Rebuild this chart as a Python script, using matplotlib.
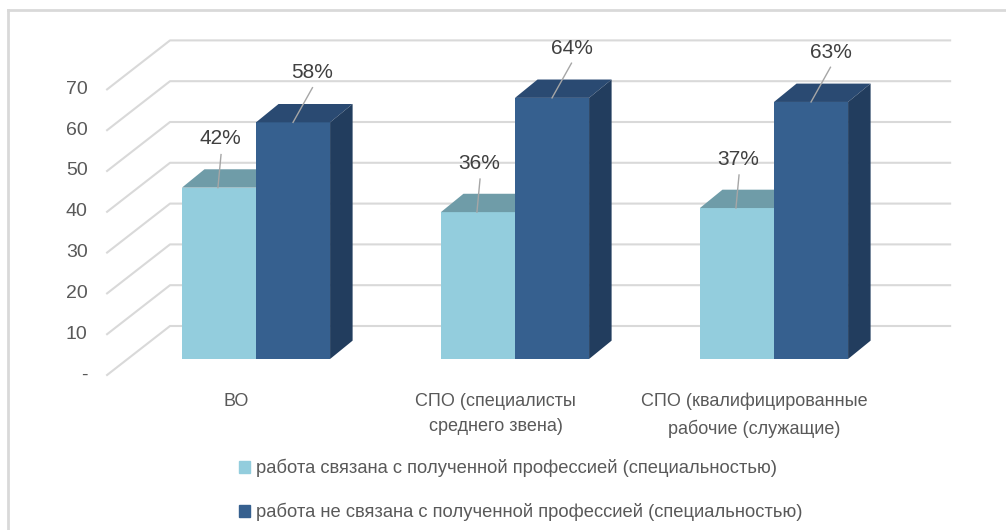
import matplotlib
matplotlib.use('Agg')
import matplotlib.pyplot as plt
from matplotlib.patches import Polygon, Patch
from matplotlib.lines import Line2D

plt.rcParams['font.family'] = ['Liberation Sans', 'DejaVu Sans']

# data
categories = ['ВО', 'СПО (специалисты\nсреднего звена)', 'СПО (квалифицированные\nрабочие (служащие)']
related = [42, 36, 37]
unrelated = [58, 64, 63]
series_names = ['работа связана с полученной профессией (специальностью)',
                'работа не связана с полученной профессией (специальностью)']
yticks = [0, 10, 20, 30, 40, 50, 60, 70]
ytick_labels = ['-', '10', '20', '30', '40', '50', '60', '70']

# colours
light, light_top = '#93CDDD', '#6F9CA8'
dark, dark_top, dark_side = '#36608F', '#2A4A72', '#223D5E'
grid_c = '#D9D9D9'
txt_c = '#595959'

fig = plt.figure(figsize=(10.06, 5.30), dpi=100)
ax = fig.add_axes([0, 0, 1, 1])
# 1 x unit = 259 px, 1 y unit = 4.08 px, group 0 at px 256, value 0 at px 359
ax.set_xlim(-256 / 259, (1006 - 256) / 259)
ax.set_ylim((359 - 530) / 4.08, 359 / 4.08)
ax.axis('off')

# outer frame
fig.add_artist(Line2D([8 / 1006, 8 / 1006], [0, 1 - 10 / 530], color=grid_c, lw=2))
fig.add_artist(Line2D([8 / 1006, 1], [1 - 10 / 530, 1 - 10 / 530], color=grid_c, lw=2))

# 3d-ish walls: front edge, back edge, end of back wall
fx, fy = -0.575, -3.92
bx, by = -0.332, 8.09
ex = 2.68
for v, lab in zip(yticks, ytick_labels):
    ax.plot([fx, bx, ex], [v + fy, v + by, v + by], color=grid_c, lw=1.5, zorder=1)
    ax.text(fx - 0.075, v + fy, lab, ha='right', va='center', fontsize=14, color=txt_c)

w = 0.286
dx, dy = 0.087, 4.5
xs = list(range(len(categories)))

ax.bar([x - w / 2 for x in xs], related, w, color=light, zorder=2)
ax.bar([x + w / 2 for x in xs], unrelated, w, color=dark, zorder=3)

for x, v in zip(xs, related):
    l, r = x - w, x
    ax.add_patch(Polygon([(l, v), (r, v), (r + dx, v + dy), (l + dx, v + dy)],
                         closed=True, color=light_top, zorder=2, lw=0))
for x, v in zip(xs, unrelated):
    l, r = x, x + w
    ax.add_patch(Polygon([(l, v), (r, v), (r + dx, v + dy), (l + dx, v + dy)],
                         closed=True, color=dark_top, zorder=3, lw=0))
    ax.add_patch(Polygon([(r, 0), (r + dx, dy), (r + dx, v + dy), (r, v)],
                         closed=True, color=dark_side, zorder=3, lw=0))

# value labels with leader lines
for x, v in zip(xs, related):
    cx = x - w / 2
    ax.text(cx + 0.004, v + 12, f'{v}%', ha='center', va='center', fontsize=15, color='#404040', zorder=5)
    ax.plot([cx + 0.008, cx - 0.004], [v + 12 - 3.9, v], color='#A6A6A6', lw=1, zorder=4)
for x, v in zip(xs, unrelated):
    cx = x + w / 2
    ax.text(cx + 0.075, v + 12.2, f'{v}%', ha='center', va='center', fontsize=15, color='#404040', zorder=5)
    ax.plot([cx + 0.075, cx], [v + 12.2 - 3.7, v], color='#A6A6A6', lw=1, zorder=4)

# category labels
for x, lab in zip(xs, categories):
    ax.text(x - 0.075, -8.3, lab, ha='center', va='top', fontsize=13, color=txt_c, linespacing=1.65)

handles = [Patch(color=light), Patch(color=dark)]
fig.legend(handles, series_names, loc='upper left', bbox_to_anchor=(239 / 1006, 1 - 459 / 530),
           frameon=False, fontsize=13.2, labelcolor=txt_c, handlelength=0.6, handleheight=0.6,
           handletextpad=0.35, labelspacing=1.4, borderaxespad=0, borderpad=0)

fig.savefig('out.png', dpi=100)
